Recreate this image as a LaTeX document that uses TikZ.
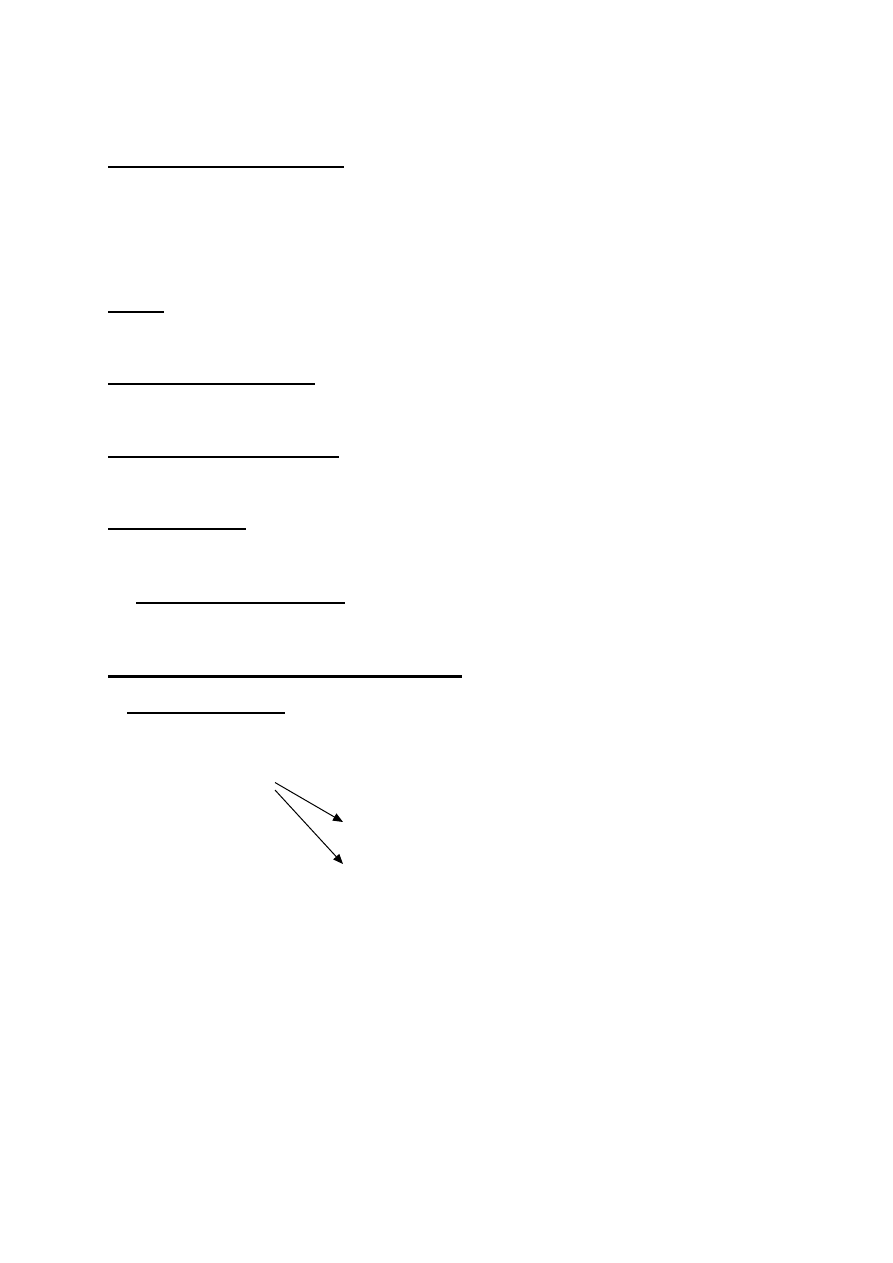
\documentclass[tikz,border=0pt]{standalone}
\usetikzlibrary{arrows.meta}
\begin{document}
\begin{tikzpicture}[x=1pt,y=-1pt,
  uline/.style={line width=2pt},
  thickline/.style={line width=3pt},
  arr/.style={line width=1pt,-{Triangle[length=10pt,width=8pt]}}]
\useasboundingbox[fill=white] (0,0) rectangle (893,1263);
\draw[uline] (108,166.5) -- (344,166.5);
\draw[uline] (108,311.5) -- (164,311.5);
\draw[uline] (108,384) -- (315,384);
\draw[uline] (108,456.5) -- (339,456.5);
\draw[uline] (108,529) -- (246,529);
\draw[uline] (136,602.5) -- (345,602.5);
\draw[thickline] (108,676) -- (462,676);
\draw[uline] (127,712.5) -- (285,712.5);
\coordinate (s1) at (275,782.5);
\coordinate (t1) at (343,822);
\coordinate (s2) at (275,790);
\coordinate (t2) at (343,864);
\draw[arr] (s1) -- (t1);
\draw[arr] (s2) -- (t2);
\end{tikzpicture}
\end{document}
